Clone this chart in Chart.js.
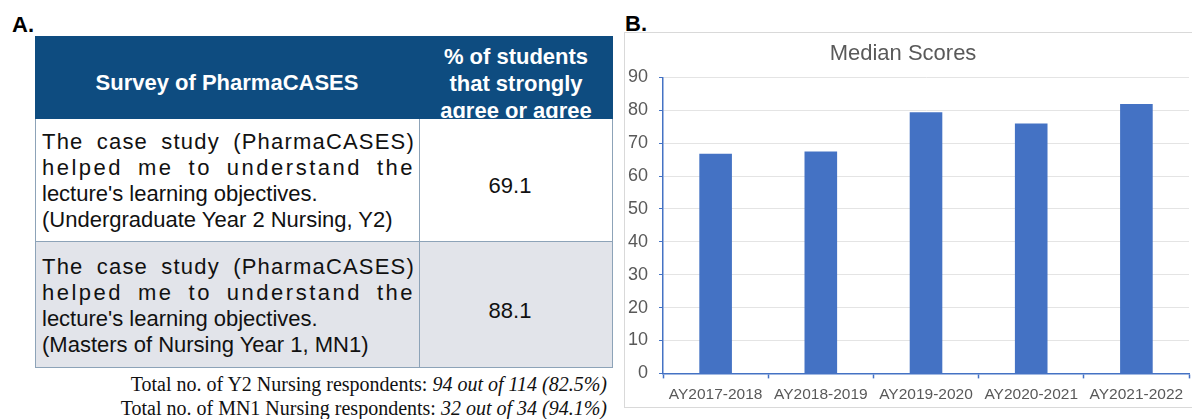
<!DOCTYPE html>
<html>
<head>
<meta charset="utf-8">
<script src="https://cdn.jsdelivr.net/npm/chart.js@4/dist/chart.umd.min.js"></script>
<style>
  body { margin: 0; background: #fff; }
  #page { position: relative; width: 1192px; height: 419px; overflow: hidden; background: #fff; font-family: "Liberation Sans", Arial, sans-serif; }
  .panel-label { position: absolute; font-weight: bold; font-size: 22px; color: #000; line-height: 22px; }
  .abs { position: absolute; }
  .hdr { color: #fff; font-weight: bold; font-size: 22px; line-height: 27px; text-align: center; }
  .cell-line { position: absolute; left: 42px; width: 373px; font-size: 22px; line-height: 26px; color: #111; white-space: nowrap; }
  .just { text-align: justify; text-align-last: justify; white-space: normal; }
  .val { position: absolute; width: 194px; left: 413px; text-align: center; font-size: 22px; line-height: 26px; color: #111; }
  .foot { position: absolute; right: 585px; font-family: "Liberation Serif", "Times New Roman", serif; font-size: 20px; line-height: 24px; white-space: nowrap; color: #111; }
  #chartBox { position: absolute; left: 624px; top: 32px; width: 600px; height: 374px; border: 1px solid #d9d9d9; }
  #myChart { position: absolute; left: 613px; top: 33px; }
</style>
</head>
<body>
<div id="page">
  <div class="panel-label" style="left:12px; top:14px;">A.</div>
  <div class="panel-label" style="left:625px; top:13px;">B.</div>

  <div id="table"></div>

  <div id="chartBox"></div>
  <canvas id="myChart" width="579" height="378"></canvas>
</div>

<script>
// Panel A: survey table
const tableHeader = ['Survey of PharmaCASES', '% of students\nthat strongly\nagree or agree'];
const surveyStatement = ['The case study (PharmaCASES)', 'helped me to understand the', "lecture's learning objectives."];
const cohorts = ['(Undergraduate Year 2 Nursing, Y2)', '(Masters of Nursing Year 1, MN1)'];
const agreePct = [69.1, 88.1];
const footnotes = [
    ['Total no. of Y2 Nursing respondents: ', '94 out of 114 (82.5%)'],
    ['Total no. of MN1 Nursing respondents: ', '32 out of 34 (94.1%)'],
];

// Panel B: bar chart
const years = ['AY2017-2018', 'AY2018-2019', 'AY2019-2020', 'AY2020-2021', 'AY2021-2022'];
const medianScores = [66.8, 67.5, 79.4, 76.0, 81.9];
const yMin = 0;
const yMax = 90;
const yStep = 10;

// build the table out of positioned divs
const table = document.getElementById('table');
let html = '';
html += '<div class="abs" style="left:35px;top:36px;width:578px;height:332px;border:1px solid #8da3b8;box-sizing:border-box;"></div>';
html += '<div class="abs" style="left:35px;top:36px;width:578px;height:83px;background:#0e4c80;"></div>';
html += '<div class="abs hdr" style="left:35px;top:69px;width:384px;">' + tableHeader[0] + '</div>';
html += '<div class="abs hdr" style="left:419px;top:43px;width:194px;height:75px;overflow:hidden;">' + tableHeader[1].replace(/\n/g, '<br>') + '</div>';
html += '<div class="abs" style="left:35px;top:241px;width:578px;height:127px;background:#e2e4ea;border:1px solid #8da3b8;box-sizing:border-box;"></div>';
html += '<div class="abs" style="left:419px;top:119px;width:1px;height:249px;background:#8da3b8;"></div>';

const rowTops = [129, 254];
cohorts.forEach((c, i) => {
    const t = rowTops[i];
    html += '<div class="cell-line just" style="top:' + t + 'px;letter-spacing:1.2px;">' + surveyStatement[0] + '</div>';
    html += '<div class="cell-line just" style="top:' + (t + 26) + 'px;letter-spacing:2.5px;">' + surveyStatement[1] + '</div>';
    html += '<div class="cell-line" style="top:' + (t + 52) + 'px;">' + surveyStatement[2] + '</div>';
    html += '<div class="cell-line" style="top:' + (t + 78) + 'px;">' + c + '</div>';
    html += '<div class="val" style="top:' + (t + 44) + 'px;">' + agreePct[i].toFixed(1) + '</div>';
});

footnotes.forEach((f, i) => {
    html += '<div class="foot" style="top:' + (372 + i * 24) + 'px;">' + f[0] + '<i>' + f[1] + '</i></div>';
});
table.innerHTML = html;

// the chart
const data = {
    labels: years,
    datasets: [{
        label: 'Median Scores',
        data: medianScores,
        backgroundColor: '#4472c4',
        barPercentage: 0.31,
        categoryPercentage: 1,
    }],
};

const config = {
    type: 'bar',
    data: data,
    options: {
        responsive: false,
        animation: false,
        devicePixelRatio: 1,
        layout: {
            padding: { left: 4, right: 3, top: 0, bottom: 0 },
        },
        plugins: {
            legend: { display: false },
            tooltip: { enabled: false },
            title: {
                display: true,
                text: 'Median Scores',
                color: '#595959',
                font: { family: 'Liberation Sans', size: 22, weight: 'normal' },
                padding: { top: 8, bottom: 10 },
            },
        },
        scales: {
            x: {
                grid: {
                    display: true,
                    drawOnChartArea: false,
                    offset: true,
                    tickColor: '#4472c4',
                    tickLength: 5,
                    tickWidth: 1.5,
                },
                border: { color: '#4472c4', width: 1.5 },
                ticks: {
                    color: '#595959',
                    font: { family: 'Liberation Sans', size: 15.5 },
                    padding: 7,
                    maxRotation: 0,
                    autoSkip: false,
                },
            },
            y: {
                min: yMin,
                max: yMax,
                ticks: {
                    stepSize: yStep,
                    color: '#595959',
                    font: { family: 'Liberation Sans', size: 18 },
                    padding: 11,
                },
                grid: {
                    color: '#e4e4e4',
                    tickColor: '#4472c4',
                    tickLength: 4,
                },
                border: { color: '#4472c4', width: 1.5 },
            },
        },
    },
};

const ctx = document.getElementById('myChart').getContext('2d');
const myChart = new Chart(ctx, config);
</script>
</body>
</html>
